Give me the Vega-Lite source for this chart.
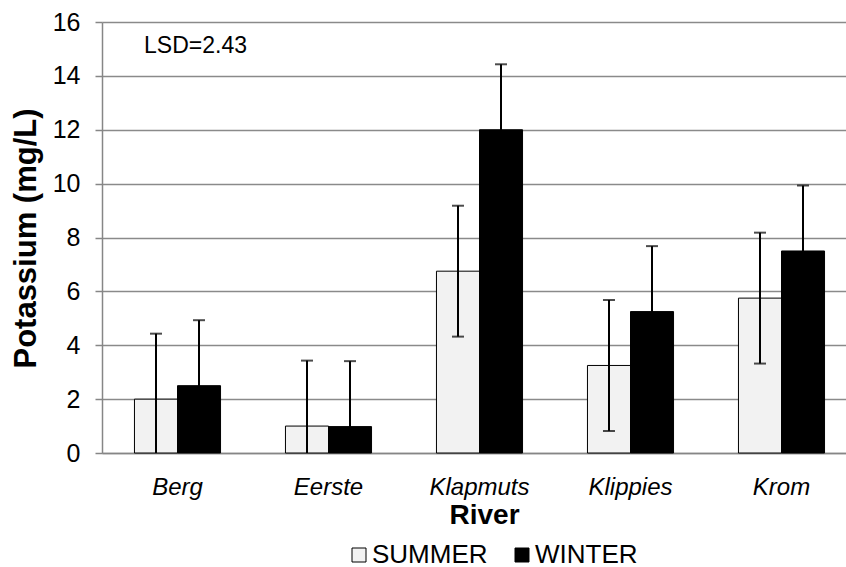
{
  "$schema": "https://vega.github.io/schema/vega-lite/v6.json",
  "width": 755,
  "height": 431,
  "autosize": {"type": "none"},
  "padding": {"left": 102, "top": 22, "right": 0, "bottom": 114},
  "background": "white",
  "config": {
    "view": {"stroke": null},
    "font": "Liberation Sans",
    "axisY": {
      "domainColor": "#868686", "domainWidth": 1.5,
      "gridColor": "#8a8a8a", "gridWidth": 1.5,
      "tickColor": "#868686", "tickWidth": 1.5, "tickSize": 7,
      "labelFontSize": 25, "labelColor": "#000000", "labelPadding": 15,
      "titleFontSize": 31, "titleFontWeight": "bold", "titleColor": "#000000",
      "titleX": -67, "titleY": 216, "titleBaseline": "alphabetic", "titleAngle": -90, "titleAlign": "center"
    },
    "axisX": {
      "domainColor": "#868686", "domainWidth": 1.5,
      "ticks": false, "tickSize": 0, "grid": false,
      "labelFontSize": 24, "labelFontStyle": "italic", "labelColor": "#000000",
      "labelPadding": 41, "labelBaseline": "alphabetic", "labelAngle": 0,
      "titleFontSize": 28, "titleFontWeight": "bold", "titleColor": "#000000",
      "titleY": 70, "titleX": 382, "titleBaseline": "alphabetic"
    },
    "legend": {
      "orient": "none", "legendX": 244, "legendY": 520, "direction": "horizontal",
      "labelFontSize": 26, "labelColor": "#000000", "symbolType": "square", "symbolSize": 196,
      "symbolStrokeColor": "black", "symbolStrokeWidth": 1, "labelOffset": 0,
      "columnPadding": 21, "padding": 0, "labelLimit": 300
    }
  },
  "data": {
    "values": [
      {"river": "Berg", "season": "SUMMER", "value": 2.0, "lo": -0.43, "hi": 4.43},
      {"river": "Berg", "season": "WINTER", "value": 2.5, "lo": 0.07, "hi": 4.93},
      {"river": "Eerste", "season": "SUMMER", "value": 1.0, "lo": -1.43, "hi": 3.43},
      {"river": "Eerste", "season": "WINTER", "value": 0.98, "lo": -1.45, "hi": 3.41},
      {"river": "Klapmuts", "season": "SUMMER", "value": 6.75, "lo": 4.32, "hi": 9.18},
      {"river": "Klapmuts", "season": "WINTER", "value": 12.0, "lo": 9.57, "hi": 14.43},
      {"river": "Klippies", "season": "SUMMER", "value": 3.25, "lo": 0.82, "hi": 5.68},
      {"river": "Klippies", "season": "WINTER", "value": 5.25, "lo": 2.82, "hi": 7.68},
      {"river": "Krom", "season": "SUMMER", "value": 5.75, "lo": 3.32, "hi": 8.18},
      {"river": "Krom", "season": "WINTER", "value": 7.5, "lo": 5.07, "hi": 9.93}
    ]
  },
  "encoding": {
    "x": {
      "field": "river", "type": "nominal", "title": "River",
      "sort": ["Berg", "Eerste", "Klapmuts", "Klippies", "Krom"],
      "scale": {"paddingInner": 0.43, "paddingOuter": 0.215}
    }
  },
  "layer": [
    {
      "mark": {"type": "bar", "stroke": "black", "strokeWidth": 1},
      "encoding": {
        "xOffset": {"field": "season", "sort": ["SUMMER", "WINTER"]},
        "y": {
          "field": "value", "type": "quantitative", "title": "Potassium (mg/L)",
          "scale": {"domain": [0, 16], "nice": false},
          "axis": {"values": [0, 2, 4, 6, 8, 10, 12, 14, 16]}
        },
        "color": {
          "field": "season", "type": "nominal",
          "scale": {"domain": ["SUMMER", "WINTER"], "range": ["#f2f2f2", "#000000"]},
          "legend": {"title": null}
        }
      }
    },
    {
      "mark": {"type": "rule", "color": "black", "strokeWidth": 2, "clip": true},
      "encoding": {
        "xOffset": {"field": "season", "sort": ["SUMMER", "WINTER"]},
        "y": {"field": "lo", "type": "quantitative", "title": "Potassium (mg/L)"},
        "y2": {"field": "hi"}
      }
    },
    {
      "mark": {"type": "tick", "color": "black", "size": 12, "thickness": 2},
      "encoding": {
        "xOffset": {"field": "season", "sort": ["SUMMER", "WINTER"]},
        "y": {"field": "hi", "type": "quantitative", "title": "Potassium (mg/L)"}
      }
    },
    {
      "transform": [{"filter": "datum.lo > 0"}],
      "mark": {"type": "tick", "color": "black", "size": 12, "thickness": 2},
      "encoding": {
        "xOffset": {"field": "season", "sort": ["SUMMER", "WINTER"]},
        "y": {"field": "lo", "type": "quantitative", "title": "Potassium (mg/L)"}
      }
    },
    {
      "data": {"values": [{"note": "LSD=2.43"}]},
      "mark": {"type": "text", "fontSize": 23, "color": "black", "align": "center", "baseline": "middle", "dx": 18, "dy": -3},
      "encoding": {
        "x": {"datum": "Berg"},
        "y": {"datum": 15, "type": "quantitative", "title": "Potassium (mg/L)"},
        "text": {"field": "note"}
      }
    }
  ]
}
